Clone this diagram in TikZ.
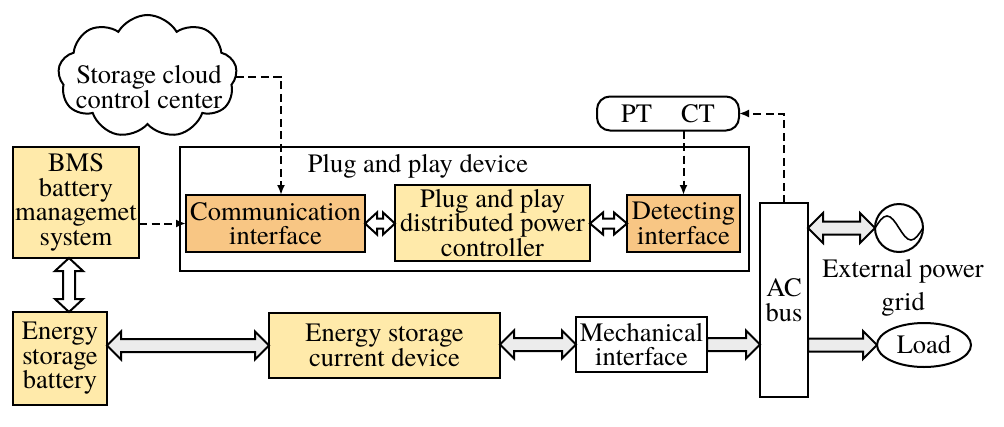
\documentclass[tikz,border=0pt]{standalone}
\usepackage{fontspec}
\setmainfont{TeX Gyre Termes}
\usetikzlibrary{shapes.symbols,shapes.geometric,arrows.meta,calc}
\definecolor{lyel}{RGB}{255,234,170}
\definecolor{orng}{RGB}{248,198,132}
\definecolor{agray}{RGB}{236,236,236}
\newcommand{\HDArr}[6]{%
 \draw[#1] let \p1=(#2), \p2=(#3) in (\x1,\y1) -- (\x1+#6pt,\y1+#5pt) -- (\x1+#6pt,\y1+#4pt) -- (\x2-#6pt,\y2+#4pt) -- (\x2-#6pt,\y2+#5pt) -- (\x2,\y2) -- (\x2-#6pt,\y2-#5pt) -- (\x2-#6pt,\y2-#4pt) -- (\x1+#6pt,\y1-#4pt) -- (\x1+#6pt,\y1-#5pt) -- cycle;}
\newcommand{\HSArr}[6]{%
 \draw[#1] let \p1=(#2), \p2=(#3) in (\x1,\y1+#4pt) -- (\x2-#6pt,\y2+#4pt) -- (\x2-#6pt,\y2+#5pt) -- (\x2,\y2) -- (\x2-#6pt,\y2-#5pt) -- (\x2-#6pt,\y2-#4pt) -- (\x1,\y1-#4pt) -- cycle;}
\newcommand{\VDArr}[6]{%
 \draw[#1] let \p1=(#2), \p2=(#3) in (\x1,\y1) -- (\x1+#5pt,\y1-#6pt) -- (\x1+#4pt,\y1-#6pt) -- (\x2+#4pt,\y2+#6pt) -- (\x2+#5pt,\y2+#6pt) -- (\x2,\y2) -- (\x2-#5pt,\y2+#6pt) -- (\x2-#4pt,\y2+#6pt) -- (\x1-#4pt,\y1-#6pt) -- (\x1-#5pt,\y1-#6pt) -- cycle;}
\begin{document}
\begin{tikzpicture}[x=1pt,y=-1pt,line width=2pt,
  every node/.style={font=\fontsize{26.5}{24.5}\selectfont, align=center, inner sep=0pt, outer sep=0pt},
  box/.style={draw, rectangle},
  ybox/.style={box, fill=lyel},
  obox/.style={box, fill=orng},
  sig/.style={line width=2pt, dash pattern=on 8pt off 4.5pt, -{Latex[length=10pt,width=8pt]}},
  fatg/.style={fill=agray, line width=2pt},
  fatw/.style={fill=white, line width=2pt}]
\useasboundingbox (0,0) rectangle (1004,426);

% nodes
\node[cloud, draw, cloud puffs=9, cloud puff arc=120, aspect=1.5, minimum width=179pt, minimum height=123pt] (cloud) at (147.5,76.5) {};
\node (cloudtext) at (149,87) {Storage cloud\\control center};
\node[ybox, minimum width=126pt, minimum height=111pt] (bms) at (76,202.5) {BMS\\battery\\managemet\\system};
\node[box, minimum width=569pt, minimum height=124pt] (ppd) at (464.5,209) {};
\node (ppdlabel) at (418,166) {Plug and play device};
\node[obox, minimum width=179pt, minimum height=57pt] (comm) at (275.5,223.5) {Communication\\interface};
\node[ybox, minimum width=195pt, minimum height=76pt] (pnp) at (492.5,223) {Plug and play\\distributed power\\controller};
\node[obox, minimum width=113pt, minimum height=57pt] (det) at (683.5,223.5) {Detecting\\interface};
\node[box, rounded corners=13pt, minimum width=142pt, minimum height=34pt] (ptct) at (668,113.5) {PT\hspace{29pt}CT};
\node[box, minimum width=48pt, minimum height=194pt] (acbus) at (784,300) {AC\\bus};
\node[draw, circle, minimum size=48pt] (grid) at (899,228) {};
\node[font=\fontsize{26.5}{33}\selectfont] (gridlabel) at (903,288) {External power\\grid};
\node[draw, ellipse, minimum width=94pt, minimum height=44pt] (load) at (924,345) {Load};
\node[box, minimum width=131pt, minimum height=55pt] (mech) at (641.5,344.5) {Mechanical\\interface};
\node[ybox, minimum width=231pt, minimum height=65pt] (escd) at (384.5,345.5) {Energy storage\\current device};
\node[ybox, minimum width=94pt, minimum height=93pt] (bat) at (60,358.5) {Energy\\storage\\battery};

% sine wave in grid source
\draw[line width=1.6pt] (grid.west) sin ++(12,-12) cos ++(12,12) sin ++(12,12) cos ++(12,-12);

% helper coordinates
\coordinate (cx) at (281,0);
\coordinate (vx) at (69,0);

% signal (dashed) connectors
\draw[sig] (cloud.east) -| (comm.north -| cx);
\draw[sig] (bms.east |- comm.west) -- (comm.west);
\draw[sig] (det.north |- ptct.south) -- (det.north);
\draw[sig] (acbus.north) |- (ptct.east);

% power (fat) connectors
\HDArr{fatw}{comm.east}{pnp.west |- comm.east}{5}{11}{12}
\HDArr{fatw}{pnp.east |- det.west}{det.west}{5}{11}{13}
\VDArr{fatw}{bms.south -| vx}{bat.north -| vx}{6}{14}{13}
\HDArr{fatg}{bat.east |- escd.west}{escd.west}{6.5}{14}{14}
\HDArr{fatg}{escd.east |- mech.west}{mech.west}{6.5}{14}{14}
\HSArr{fatg}{mech.east}{acbus.west |- mech.east}{6.5}{14}{14}
\HSArr{fatg}{acbus.east |- load.west}{load.west}{6.5}{14}{14}
\HDArr{fatg}{acbus.east |- grid.west}{grid.west}{6.5}{15}{15}
\end{tikzpicture}
\end{document}
